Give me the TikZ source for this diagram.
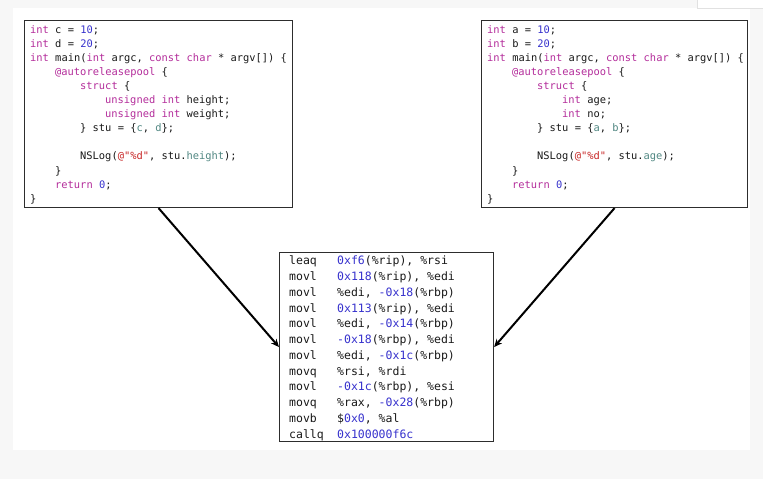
\documentclass[tikz,border=0pt]{standalone}
\usepackage{fontspec}
\newfontfamily\codefont{DejaVu Sans Mono}
\usetikzlibrary{arrows.meta}
\definecolor{bgc}{RGB}{247,247,247}
\definecolor{boxc}{RGB}{45,45,45}
\definecolor{txt}{RGB}{25,25,25}
\definecolor{kwc}{RGB}{180,45,155}
\definecolor{numc}{RGB}{55,50,205}
\definecolor{strc}{RGB}{200,40,40}
\definecolor{varc}{RGB}{80,135,130}
\definecolor{tabc}{RGB}{225,225,225}
\newcommand\ckw[1]{\textcolor{kwc}{#1}}
\newcommand\cnum[1]{\textcolor{numc}{#1}}
\newcommand\cstr[1]{\textcolor{strc}{#1}}
\newcommand\cvar[1]{\textcolor{varc}{#1}}
\begin{document}
\begin{tikzpicture}[x=1pt,y=-1pt,
  codeline/.style={anchor=base west, inner sep=0pt, text=txt, font=\codefont\fontsize{10.4}{12}\selectfont},
  asmline/.style={anchor=base west, inner sep=0pt, text=txt, font=\codefont\fontsize{11.5}{13}\selectfont},
  box/.style={draw=boxc, line width=1.1pt, fill=white, anchor=north west, inner sep=0pt},
  arr/.style={draw=black, line width=2pt, -{Stealth[length=8pt,width=7pt]}}]
\useasboundingbox (0,0) rectangle (763,479);
\fill[bgc] (0,0) rectangle (763,479);
\fill[white] (13,8) rectangle (750,450);
\draw[tabc, fill=white, line width=0.8pt] (697,-2) rectangle (765,8);

% boxes
\node[box, minimum width=268pt, minimum height=187pt] (left) at (24,20) {};
\node[box, minimum width=266pt, minimum height=187pt] (right) at (481,20) {};
\node[box, minimum width=214pt, minimum height=189pt] (mid) at (279,252) {};

% left code
\node[codeline] (l1) at (30,33.0) {\ckw{int} c = \cnum{10};};
\node[codeline] (l2) at (30,47.1) {\ckw{int} d = \cnum{20};};
\node[codeline] (l3) at (30,61.2) {\ckw{int} main(\ckw{int} argc, \ckw{const} \ckw{char} * argv[]) \{};
\node[codeline] (l4) at (55,75.3) {\ckw{@autoreleasepool} \{};
\node[codeline] (l5) at (80,89.4) {\ckw{struct} \{};
\node[codeline] (l6) at (105,103.5) {\ckw{unsigned} \ckw{int} height;};
\node[codeline] (l7) at (105,117.6) {\ckw{unsigned} \ckw{int} weight;};
\node[codeline] (l8) at (80,131.7) {\} stu = \{\cvar{c}, \cvar{d}\};};
\node[codeline] (l10) at (80,159.9) {NSLog(\cstr{@"\%d"}, stu.\cvar{height});};
\node[codeline] (l11) at (55,174.0) {\}};
\node[codeline] (l12) at (55,188.1) {\ckw{return} \cnum{0};};
\node[codeline] (l13) at (30,202.2) {\}};

% right code
\node[codeline] (r1) at (487,33.0) {\ckw{int} a = \cnum{10};};
\node[codeline] (r2) at (487,47.1) {\ckw{int} b = \cnum{20};};
\node[codeline] (r3) at (487,61.2) {\ckw{int} main(\ckw{int} argc, \ckw{const} \ckw{char} * argv[]) \{};
\node[codeline] (r4) at (512,75.3) {\ckw{@autoreleasepool} \{};
\node[codeline] (r5) at (537,89.4) {\ckw{struct} \{};
\node[codeline] (r6) at (562,103.5) {\ckw{int} age;};
\node[codeline] (r7) at (562,117.6) {\ckw{int} no;};
\node[codeline] (r8) at (537,131.7) {\} stu = \{\cvar{a}, \cvar{b}\};};
\node[codeline] (r10) at (537,159.9) {NSLog(\cstr{@"\%d"}, stu.\cvar{age});};
\node[codeline] (r11) at (512,174.0) {\}};
\node[codeline] (r12) at (512,188.1) {\ckw{return} \cnum{0};};
\node[codeline] (r13) at (487,202.2) {\}};

% assembly
\node[asmline] (m1) at (289,264.7) {leaq};
\node[asmline] (o1) at (337,264.7) {\cnum{0xf6}(\%rip), \%rsi};
\node[asmline] (m2) at (289,280.5) {movl};
\node[asmline] (o2) at (337,280.5) {\cnum{0x118}(\%rip), \%edi};
\node[asmline] (m3) at (289,296.2) {movl};
\node[asmline] (o3) at (337,296.2) {\%edi, \cnum{-0x18}(\%rbp)};
\node[asmline] (m4) at (289,312.0) {movl};
\node[asmline] (o4) at (337,312.0) {\cnum{0x113}(\%rip), \%edi};
\node[asmline] (m5) at (289,327.7) {movl};
\node[asmline] (o5) at (337,327.7) {\%edi, \cnum{-0x14}(\%rbp)};
\node[asmline] (m6) at (289,343.5) {movl};
\node[asmline] (o6) at (337,343.5) {\cnum{-0x18}(\%rbp), \%edi};
\node[asmline] (m7) at (289,359.3) {movl};
\node[asmline] (o7) at (337,359.3) {\%edi, \cnum{-0x1c}(\%rbp)};
\node[asmline] (m8) at (289,375.0) {movq};
\node[asmline] (o8) at (337,375.0) {\%rsi, \%rdi};
\node[asmline] (m9) at (289,390.8) {movl};
\node[asmline] (o9) at (337,390.8) {\cnum{-0x1c}(\%rbp), \%esi};
\node[asmline] (m10) at (289,406.5) {movq};
\node[asmline] (o10) at (337,406.5) {\%rax, \cnum{-0x28}(\%rbp)};
\node[asmline] (m11) at (289,422.3) {movb};
\node[asmline] (o11) at (337,422.3) {\$\cnum{0x0}, \%al};
\node[asmline] (m12) at (289,438.0) {callq};
\node[asmline] (o12) at (337,438.0) {\cnum{0x100000f6c}};

% arrows
\draw[arr] (left.south) -- (mid.west);
\draw[arr] (right.south) -- (mid.east);
\end{tikzpicture}
\end{document}
